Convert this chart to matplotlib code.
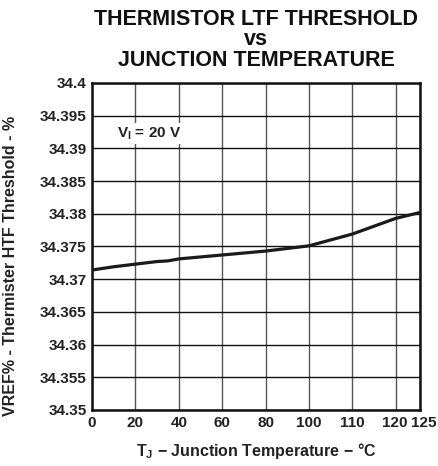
import numpy as np
import matplotlib
matplotlib.use("Agg")
import matplotlib.pyplot as plt
from matplotlib.transforms import ScaledTranslation

# Data
temp_c = [0, 10, 20, 30, 35, 40, 60, 80, 100, 110, 120, 125]
threshold_pct = [34.3714, 34.3719, 34.3723, 34.3727, 34.3728, 34.3731,
                 34.3737, 34.3743, 34.3751, 34.3769, 34.3793, 34.3802]

x_tick_values = [0, 20, 40, 60, 80, 100, 110, 120, 125]
x_tick_slots = [0, 1, 2, 3, 4, 5, 6, 7, 7.56]
y_ticks = [34.35, 34.355, 34.36, 34.365, 34.37, 34.375, 34.38, 34.385, 34.39, 34.395, 34.4]
y_tick_labels = ["34.35", "34.355", "34.36", "34.365", "34.37", "34.375",
                 "34.38", "34.385", "34.39", "34.395", "34.4"]

plt.rcParams['font.family'] = ['Liberation Sans', 'DejaVu Sans']
plt.rcParams['font.weight'] = 'bold'
plt.rcParams['mathtext.fontset'] = 'custom'
plt.rcParams['mathtext.rm'] = 'Liberation Sans:bold'
plt.rcParams['mathtext.it'] = 'Liberation Sans:bold'
plt.rcParams['mathtext.default'] = 'rm'

fig = plt.figure(figsize=(4.39, 4.66), dpi=100)
ax = fig.add_axes([0.2096, 0.1202, 0.9567 - 0.2096, 0.8219 - 0.1202])

fwd = lambda v: np.interp(v, x_tick_values, x_tick_slots)
inv = lambda p: np.interp(p, x_tick_slots, x_tick_values)
ax.set_xscale('function', functions=(fwd, inv))

ax.plot(temp_c, threshold_pct, color='#1a1a1a', lw=2.3, solid_capstyle='butt', zorder=3)

ax.set_xlim(0, 125)
ax.set_ylim(34.35, 34.4)
ax.set_xticks(x_tick_values)
ax.set_xticklabels([str(v) for v in x_tick_values])
ax.set_yticks(y_ticks)
ax.set_yticklabels(y_tick_labels)
ax.minorticks_off()
ax.tick_params(axis='both', length=0, labelsize=11, pad=4)
for lab in ax.get_xticklabels() + ax.get_yticklabels():
    lab.set_fontweight('bold')
    lab.set_color('#222222')
xl = ax.get_xticklabels()
xl[-1].set_transform(xl[-1].get_transform() + ScaledTranslation(4 / 100, 0, fig.dpi_scale_trans))
xl[-2].set_transform(xl[-2].get_transform() + ScaledTranslation(-1 / 100, 0, fig.dpi_scale_trans))

ax.xaxis.grid(True, color='#555555', lw=1.0)
ax.yaxis.grid(True, color='#111111', lw=1.0)
for s in ax.spines.values():
    s.set_linewidth(1.8)
    s.set_color('#111111')

ax.set_xlabel(r'T$_\mathrm{J}$ − Junction Temperature − °C', fontsize=11.5,
              fontweight='bold', labelpad=8, color='#222222')
ax.set_ylabel('VREF% - Thermister HTF Threshold - %', fontsize=11.5,
              fontweight='bold', color='#222222')
ax.yaxis.set_label_coords(-0.227, 0.44)
ax.set_title('THERMISTOR LTF THRESHOLD\nvs\nJUNCTION TEMPERATURE', fontsize=15.5,
             fontweight='bold', linespacing=0.95, pad=12.5, color='#111111')

ax.text(0.075, 0.845, r'V$_\mathrm{I}$ = 20 V', transform=ax.transAxes, fontsize=11,
        fontweight='bold', color='#222222', va='center', ha='left',
        bbox=dict(facecolor='white', edgecolor='none', pad=1.5), zorder=4)

fig.savefig('out.png', dpi=100)
